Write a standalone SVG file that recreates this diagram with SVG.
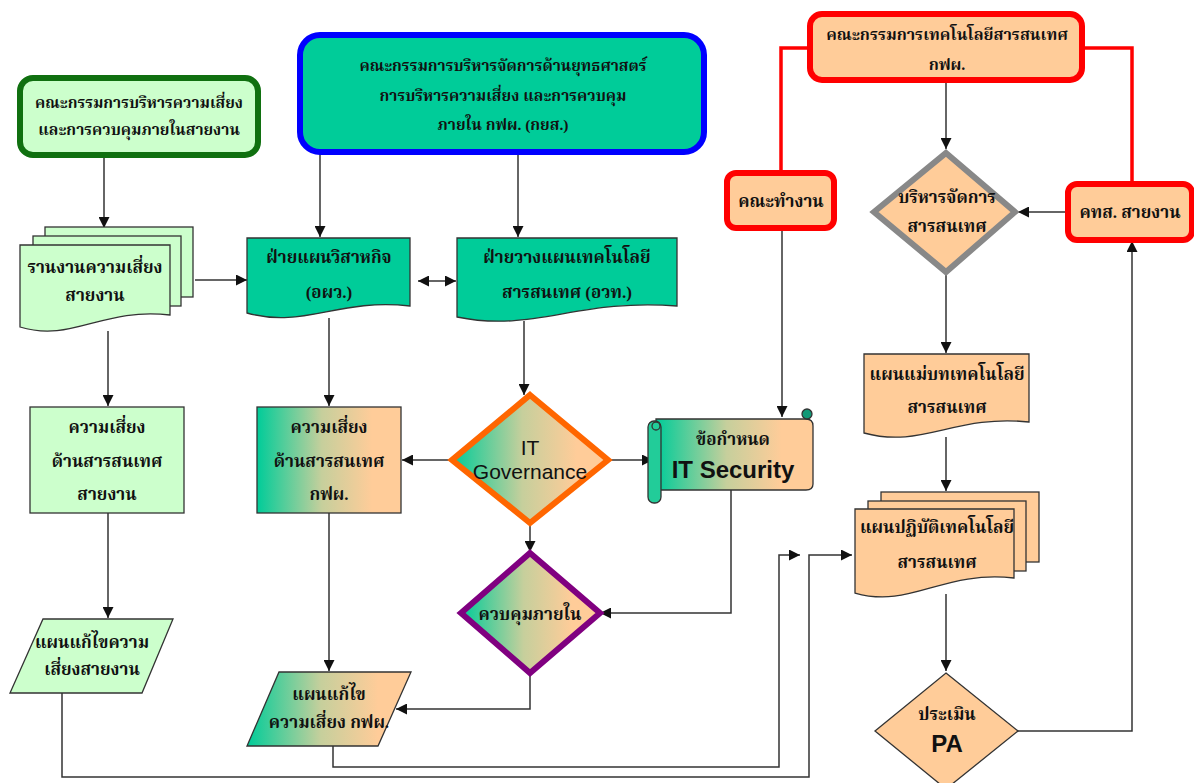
<svg xmlns="http://www.w3.org/2000/svg" width="1194" height="783" viewBox="0 0 1194 783">
<style>
.t{font-family:"Liberation Serif","DejaVu Serif","Noto Serif Thai","Noto Sans Thai",serif;font-weight:bold;font-size:17px;fill:#111;text-anchor:middle}
.s{font-size:15.5px}
.m{font-size:16px}
.en{font-family:"Liberation Sans",Arial,sans-serif;fill:#111;text-anchor:middle}
.c{stroke:#333;stroke-width:1.5;fill:none}
.r{stroke:#ff0000;stroke-width:3.5;fill:none}
.nb{stroke:#333;stroke-width:1.3}
.lg{fill:#ccffcc}
.pe{fill:#ffcc99}
.tl{fill:#00cc99}
</style>
<defs>
<linearGradient id="g" x1="0" y1="0" x2="1" y2="0">
<stop offset="0" stop-color="#00cc99"/>
<stop offset="0.45" stop-color="#c6cf9c"/>
<stop offset="0.8" stop-color="#ffcc99"/>
<stop offset="1" stop-color="#ffcc99"/>
</linearGradient>
<marker id="ar" viewBox="0 0 10 10" refX="10" refY="5" markerWidth="11" markerHeight="11" markerUnits="userSpaceOnUse" orient="auto-start-reverse">
<path d="M0,0 L10,5 L0,10 z" fill="#111"/>
</marker>
</defs>
<rect width="1194" height="783" fill="#ffffff"/>

<g id="connectors">
<path class="c" d="M104,156 V228" marker-end="url(#ar)"/>
<path class="c" d="M195,280 H247" marker-end="url(#ar)"/>
<path class="c" d="M108,331 V406" marker-end="url(#ar)"/>
<path class="c" d="M108,513 V618" marker-end="url(#ar)"/>
<path class="c" d="M320,153 V237" marker-end="url(#ar)"/>
<path class="c" d="M518,153 V237" marker-end="url(#ar)"/>
<path class="c" d="M418,281 H456" marker-start="url(#ar)" marker-end="url(#ar)"/>
<path class="c" d="M329,318 V406" marker-end="url(#ar)"/>
<path class="c" d="M524,321 V395" marker-end="url(#ar)"/>
<path class="c" d="M452,460 H402" marker-end="url(#ar)"/>
<path class="c" d="M608,460 H653" marker-end="url(#ar)"/>
<path class="c" d="M530,523 V552" marker-end="url(#ar)"/>
<path class="c" d="M731,490 V613 H600" marker-end="url(#ar)"/>
<path class="c" d="M530,673 V709 H396" marker-end="url(#ar)"/>
<path class="c" d="M329,513 V671" marker-end="url(#ar)"/>
<path class="c" d="M62,693 V777 H809 V555 H852" marker-end="url(#ar)"/>
<path class="c" d="M333,746 V767 H779 V555 H800" marker-end="url(#ar)"/>
<path class="c" d="M782,228 V417" marker-end="url(#ar)"/>
<path class="r" d="M810,48 H781 V173"/>
<path class="r" d="M1082,48 H1132 V183"/>
<path class="c" d="M946,81 V149" marker-end="url(#ar)"/>
<path class="c" d="M1067,212 H1018" marker-end="url(#ar)"/>
<path class="c" d="M946,272 V353" marker-end="url(#ar)"/>
<path class="c" d="M946,437 V491" marker-end="url(#ar)"/>
<path class="c" d="M946,594 V671" marker-end="url(#ar)"/>
<path class="c" d="M1018,731 H1132 V241" marker-end="url(#ar)"/>
</g>

<g id="n-risk-committee">
<rect x="20" y="78" width="238" height="77" rx="13" class="lg" stroke="#107010" stroke-width="6"/>
<text class="t s" x="139" y="108">คณะกรรมการบริหารความเสี่ยง</text>
<text class="t s" x="139" y="135">และการควบคุมภายในสายงาน</text>
</g>

<g id="n-risk-report">
<rect x="45" y="227" width="148" height="70" class="lg nb"/>
<rect x="33" y="236" width="148" height="70" class="lg nb"/>
<path d="M20,245 H170 V315 C102,307 72,343 20,327 Z" class="lg nb"/>
<text class="t" x="95" y="273">รานงานความเสี่ยง</text>
<text class="t" x="95" y="301">สายงาน</text>
</g>

<g id="n-strategy-committee">
<rect x="300" y="35" width="404" height="117" rx="20" class="tl" stroke="#0000ff" stroke-width="6"/>
<text class="t s" x="503" y="71">คณะกรรมการบริหารจัดการด้านยุทธศาสตร์</text>
<text class="t s" x="503" y="101">การบริหารความเสี่ยง และการควบคุม</text>
<text class="t s" x="503" y="130">ภายใน กฟผ. (กยส.)</text>
</g>

<g id="n-corp-plan">
<path d="M247,238 H410 V306 C337,298 304,329 247,313 Z" class="tl nb"/>
<text class="t" x="329" y="263">ฝ่ายแผนวิสาหกิจ</text>
<text class="t" x="329" y="298">(อผว.)</text>
</g>

<g id="n-it-plan">
<path d="M457,238 H677 V306 C578,298 534,333 457,317 Z" class="tl nb"/>
<text class="t" x="567" y="263">ฝ่ายวางแผนเทคโนโลยี</text>
<text class="t" x="567" y="298">สารสนเทศ (อวท.)</text>
</g>

<g id="n-risk-line">
<rect x="30" y="407" width="154" height="106" class="lg nb"/>
<text class="t" x="107" y="433">ความเสี่ยง</text>
<text class="t" x="107" y="467">ด้านสารสนเทศ</text>
<text class="t" x="107" y="500">สายงาน</text>
</g>

<g id="n-risk-egat">
<rect x="257" y="407" width="144" height="106" fill="url(#g)" class="nb"/>
<text class="t" x="329" y="433">ความเสี่ยง</text>
<text class="t" x="329" y="467">ด้านสารสนเทศ</text>
<text class="t" x="329" y="500">กฟผ.</text>
</g>

<g id="n-fix-line">
<path d="M43,619 H173 L142,693 H10 Z" class="lg nb"/>
<text class="t" x="92" y="648">แผนแก้ไขความ</text>
<text class="t" x="92" y="675">เสี่ยงสายงาน</text>
</g>

<g id="n-fix-egat">
<path d="M279,672 H411 L378,746 H247 Z" fill="url(#g)" class="nb"/>
<text class="t" x="329" y="700">แผนแก้ไข</text>
<text class="t" x="329" y="728">ความเสี่ยง กฟผ.</text>
</g>

<g id="n-it-gov">
<path d="M530,395 L608,460 L530,523 L452,460 Z" fill="url(#g)" stroke="#ff6600" stroke-width="6" stroke-linejoin="miter"/>
<text class="en" x="530" y="455" font-size="21">IT</text>
<text class="en" x="530" y="479" font-size="21">Governance</text>
</g>

<g id="n-internal-control">
<path d="M530,553 L600,613 L530,673 L461,613 Z" fill="url(#g)" stroke="#800080" stroke-width="6"/>
<text class="t" x="530" y="620">ควบคุมภายใน</text>
</g>

<g id="n-it-security">
<path d="M656,419 H806 Q813,419 813,426 V484 Q813,490 806,490 H656 Z" fill="url(#g)" class="nb"/>
<rect x="648" y="421" width="13" height="82" rx="6" fill="#22cc99" class="nb"/>
<circle cx="656" cy="426" r="4" fill="#22cc99" class="nb"/>
<circle cx="807" cy="414" r="5" fill="#119977" class="nb"/>
<text class="t" x="733" y="445" font-size="14.5">ข้อกำหนด</text>
<text class="en" x="733" y="478" font-size="24" font-weight="bold">IT Security</text>
</g>

<g id="n-it-committee">
<rect x="810" y="14" width="272" height="66" rx="12" class="pe" stroke="#ff0000" stroke-width="6"/>
<text class="t m" x="947" y="40">คณะกรรมการเทคโนโลยีสารสนเทศ</text>
<text class="t m" x="947" y="70">กฟผ.</text>
</g>

<g id="n-working-group">
<rect x="727" y="173" width="107" height="55" rx="9" class="pe" stroke="#ff0000" stroke-width="6"/>
<text class="t" x="781" y="207">คณะทำงาน</text>
</g>

<g id="n-it-manage">
<path d="M946,153 L1015,212 L946,272 L874,212 Z" class="pe" stroke="#888888" stroke-width="6"/>
<text class="t" x="947" y="203">บริหารจัดการ</text>
<text class="t" x="947" y="232">สารสนเทศ</text>
</g>

<g id="n-ktl-line">
<rect x="1068" y="184" width="124" height="56" rx="9" class="pe" stroke="#ff0000" stroke-width="6"/>
<text class="t" x="1130" y="218">คทส. สายงาน</text>
</g>

<g id="n-master-plan">
<path d="M864,354 H1029 V422 C955,414 922,449 864,433 Z" class="pe nb"/>
<text class="t" x="947" y="380">แผนแม่บทเทคโนโลยี</text>
<text class="t" x="947" y="413">สารสนเทศ</text>
</g>

<g id="n-action-plan">
<rect x="881" y="492" width="158" height="70" class="pe nb"/>
<rect x="868" y="501" width="158" height="70" class="pe nb"/>
<path d="M855,509 H1014 V578 C942,570 911,609 855,593 Z" class="pe nb"/>
<text class="t" x="937" y="533">แผนปฏิบัติเทคโนโลยี</text>
<text class="t" x="937" y="568">สารสนเทศ</text>
</g>

<g id="n-pa">
<path d="M946,673 L1018,731 L946,789 L875,731 Z" class="pe nb"/>
<text class="t" x="947" y="720">ประเมิน</text>
<text class="en" x="947" y="752" font-size="24" font-weight="bold">PA</text>
</g>
</svg>
